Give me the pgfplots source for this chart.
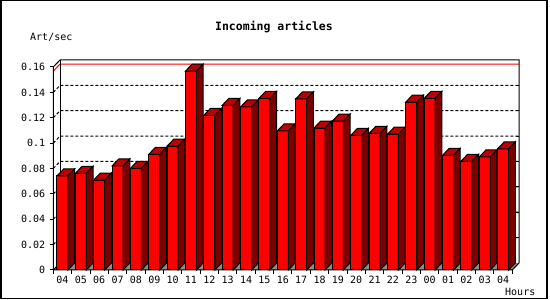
\documentclass[border=0pt]{standalone}
\usepackage{pgfplots}
\pgfplotsset{compat=1.18}
\usepackage{pgfplotstable}
\usepackage{fontspec}
\setmonofont{DejaVu Sans Mono}
\definecolor{barfront}{RGB}{255,0,0}
\definecolor{bartop}{RGB}{190,0,0}
\definecolor{barside}{RGB}{125,0,0}
\definecolor{floorgray}{RGB}{140,140,140}

\pgfplotstableread{
x v
0 0.0741
1 0.0762
2 0.0709
3 0.0820
4 0.0801
5 0.0912
6 0.0977
7 0.1568
8 0.1219
9 0.1298
10 0.1285
11 0.1353
12 0.1096
13 0.1348
14 0.1119
15 0.1174
16 0.1061
17 0.1077
18 0.1070
19 0.1324
20 0.1353
21 0.0904
22 0.0857
23 0.0891
24 0.0955
}\hourdata

% top and side faces of a 3D bar, drawn at the bar's data point
\pgfdeclareplotmark{bar3d}{%
  \pgfscope
  \pgfkeys{/pgf/fpu=true,/pgf/fpu/output format=fixed}%
  \pgfmathsetmacro\bh{\barv*1268.75}%
  \pgfmathsetmacro\bhb{7-\barv*1268.75}%
  \pgfkeys{/pgf/fpu=false}%
  \pgfsetlinewidth{1pt}%
  \pgfsetstrokecolor{black}%
  \pgfsetfillcolor{bartop}%
  \pgfpathmoveto{\pgfqpoint{-5.5pt}{0pt}}%
  \pgfpathlineto{\pgfqpoint{5.5pt}{0pt}}%
  \pgfpathlineto{\pgfqpoint{12.2pt}{7pt}}%
  \pgfpathlineto{\pgfqpoint{1.2pt}{7pt}}%
  \pgfpathclose
  \pgfusepath{fill,stroke}%
  \pgfsetfillcolor{barside}%
  \pgfpathmoveto{\pgfqpoint{5.5pt}{0pt}}%
  \pgfpathlineto{\pgfqpoint{12.2pt}{7pt}}%
  \pgfpathlineto{\pgfqpoint{12.2pt}{\bhb pt}}%
  \pgfpathlineto{\pgfqpoint{5.5pt}{-\bh pt}}%
  \pgfpathclose
  \pgfusepath{fill,stroke}%
  \endpgfscope
}

\begin{document}
\begin{tikzpicture}
\useasboundingbox (0pt,0pt) rectangle (550pt,300pt);
\begin{axis}[
  at={(53.3pt,30pt)}, anchor=south west,
  x=18.36pt, y=1268.75pt,
  xmin=-0.5, xmax=24.865, ymin=0, ymax=0.165517,
  axis line style={draw=none},
  major tick length=0pt,
  clip=false,
  xtick={0,...,24},
  xticklabels={04,05,06,07,08,09,10,11,12,13,14,15,16,17,18,19,20,21,22,23,00,01,02,03,04},
  ytick={0,0.02,0.04,0.06,0.08,0.1,0.12,0.14,0.16},
  yticklabels={0,0.02,0.04,0.06,0.08,0.1,0.12,0.14,0.16},
  scaled y ticks=false,
  xticklabel style={font=\ttfamily\fontsize{10}{12}\selectfont, inner sep=0pt, anchor=north, yshift=-6pt},
  yticklabel style={font=\ttfamily\fontsize{10}{12}\selectfont, inner sep=0pt, anchor=east, xshift=-8pt},
]
% floor
\fill[floorgray] (axis cs:-0.5,0) -- (axis cs:24.5,0) -- (axis cs:24.865,0.005517) -- (axis cs:-0.135,0.005517) -- cycle;
% dotted grid on back wall
\pgfplotsinvokeforeach{0.02,0.04,0.06,0.08,0.1,0.12,0.14}{
  \draw[line width=1pt, dash pattern=on 3pt off 2pt] (axis cs:-0.5,#1) -- (axis cs:-0.135,{#1+0.005517}) -- (axis cs:24.865,{#1+0.005517});
  \draw[line width=1pt] (axis cs:24.865,{#1+0.005517}) -- ++(-3pt,0pt);
}
% maximum line
\draw[line width=1pt, red] (axis cs:-0.5,0.1568) -- (axis cs:-0.135,0.162317) -- (axis cs:24.865,0.162317);
% frame
\draw[line width=1pt] (axis cs:-0.5,0) -- (axis cs:-0.5,0.16) -- (axis cs:-0.135,0.165517) -- (axis cs:24.865,0.165517) -- (axis cs:24.865,0.005517) -- (axis cs:24.5,0) -- cycle;
\draw[line width=1pt] (axis cs:-0.135,0.005517) -- (axis cs:-0.135,0.165517);
\draw[line width=1pt] (axis cs:-0.5,0) -- (axis cs:-0.135,0.005517);
% ticks
\pgfplotsinvokeforeach{0,0.02,0.04,0.06,0.08,0.1,0.12,0.14,0.16}{
  \draw[line width=1pt] (axis cs:-0.5,#1) -- ++(-3pt,0pt);
}
\pgfplotsinvokeforeach{-0.5,0.5,...,24.5}{
  \draw[line width=1pt] (axis cs:#1,0) -- ++(0pt,-4pt);
}
% bars: front faces
\addplot[ybar, bar width=11pt, fill=barfront, draw=black, line width=1pt] table[x=x,y=v]{\hourdata};
% bars: top and side faces
\addplot[only marks, mark=bar3d, visualization depends on={\thisrow{v} \as \barv}] table[x=x,y=v]{\hourdata};
\end{axis}
\node[anchor=base, font=\ttfamily\bfseries\fontsize{11.5}{13}\selectfont, inner sep=0pt] at (274pt,269.3pt) {Incoming articles};
\node[anchor=base west, font=\ttfamily\fontsize{10}{12}\selectfont, inner sep=0pt] at (30pt,259.3pt) {Art/sec};
\node[anchor=base west, font=\ttfamily\fontsize{10}{12}\selectfont, inner sep=0pt] at (505pt,4.3pt) {Hours};
\draw[line width=1.5pt] (1pt,1.7pt) rectangle (547pt,299.3pt);
\end{tikzpicture}
\end{document}
